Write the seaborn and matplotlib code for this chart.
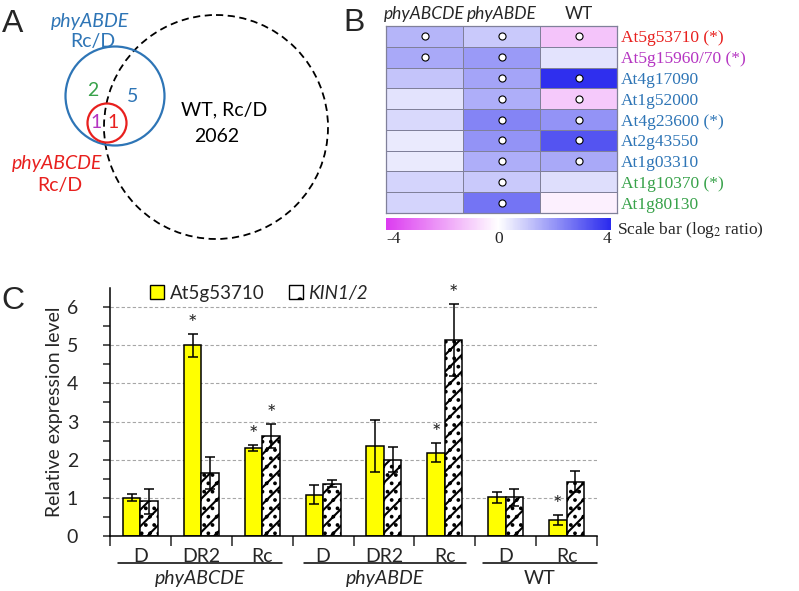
import numpy as np
import pandas as pd
import seaborn as sns
import matplotlib.pyplot as plt
import matplotlib.transforms as mtransforms
from matplotlib.colors import LinearSegmentedColormap, Normalize
from matplotlib.cm import ScalarMappable
from matplotlib.patches import Circle, Patch

sns.set_theme(style="white")
plt.rcParams['font.family'] = ['Lato', 'DejaVu Sans']
plt.rcParams['mathtext.fontset'] = 'stix'
plt.rcParams['hatch.linewidth'] = 1.5

# ---- panel A : venn counts
venn_only_abde = "2"
venn_abde_wt = "5"
venn_abcde_only = "1"
venn_abcde_wt = "1"
venn_wt = "2062"

# ---- panel B : log2 (Rc/D) ratios
heat_cols = ["phyABCDE", "phyABDE", "WT"]
heat_genes = ["At5g53710 (*)", "At5g15960/70 (*)", "At4g17090", "At1g52000",
              "At4g23600 (*)", "At2g43550", "At1g03310", "At1g10370 (*)", "At1g80130"]
gene_colors = ["#e8201e", "#b535c2", "#2e75b6", "#2e75b6", "#2e75b6",
               "#2e75b6", "#2e75b6", "#38a24a", "#38a24a"]
abcde_vals = [1.4, 1.6, 1.1, 0.5, 0.7, 0.4, 0.4, 0.8, 0.8]
abde_vals = [1.0, 1.9, 1.7, 1.5, 2.3, 2.0, 1.5, 1.0, 2.6]
wt_vals = [-1.2, 0.5, 3.9, -1.1, 2.0, 3.2, 1.6, 0.6, -0.3]
abcde_sig = [1, 1, 0, 0, 0, 0, 0, 0, 0]
abde_sig = [1, 1, 1, 1, 1, 1, 1, 1, 1]
wt_sig = [1, 0, 1, 1, 1, 1, 1, 0, 0]

# ---- panel C : qRT-PCR
conditions = ["D", "DR2", "Rc", "D", "DR2", "Rc", "D", "Rc"]
genotypes = ["phyABCDE"] * 3 + ["phyABDE"] * 3 + ["WT"] * 2
at5_mean = [1.0, 5.0, 2.3, 1.08, 2.35, 2.18, 1.01, 0.41]
at5_err = [0.1, 0.3, 0.07, 0.25, 0.68, 0.25, 0.14, 0.13]
kin_mean = [0.9, 1.65, 2.62, 1.37, 2.0, 5.14, 1.01, 1.42]
kin_err = [0.33, 0.43, 0.32, 0.1, 0.32, 0.94, 0.23, 0.28]
at5_star = [0, 1, 1, 0, 0, 1, 0, 1]
kin_star = [0, 0, 1, 0, 0, 1, 0, 0]

fig = plt.figure(figsize=(7.99, 5.91), dpi=100)

# overlay in pixel coords for venn + panel letters
ax0 = fig.add_axes([0, 0, 1, 1])
ax0.set_xlim(0, 799)
ax0.set_ylim(591, 0)
ax0.axis('off')
ax0.patch.set_alpha(0)

blue = "#2e75b6"
red = "#e8201e"
ax0.add_patch(Circle((216, 127), 112, fill=False, ec='black', lw=1.3, ls=(0, (4, 2.5))))
ax0.add_patch(Circle((115, 96), 49.5, fill=False, ec=blue, lw=1.6))
ax0.add_patch(Circle((107, 123), 19.5, fill=False, ec=red, lw=1.6))
fs_a = 14
ax0.text(90, 21, "phyABDE", color=blue, style='italic', fontsize=fs_a, ha='center', va='center')
ax0.text(93, 42, "Rc/D", color=blue, fontsize=fs_a, ha='center', va='center')
ax0.text(93, 91, venn_only_abde, color="#38a24a", fontsize=fs_a, ha='center', va='center')
ax0.text(133, 96, venn_abde_wt, color=blue, fontsize=fs_a, ha='center', va='center')
ax0.text(96, 123, venn_abcde_only, color="#b535c2", fontsize=fs_a, ha='center', va='center')
ax0.text(113, 123, venn_abcde_wt, color=red, fontsize=fs_a, ha='center', va='center')
ax0.text(224, 110, "WT, Rc/D", color='black', fontsize=fs_a, ha='center', va='center')
ax0.text(217, 137, venn_wt, color='black', fontsize=fs_a, ha='center', va='center')
ax0.text(57, 163, "phyABCDE", color=red, style='italic', fontsize=fs_a, ha='center', va='center')
ax0.text(60, 186, "Rc/D", color=red, fontsize=fs_a, ha='center', va='center')
for lab, x, y in [("A", 13, 24), ("B", 354, 23), ("C", 13, 301)]:
    ax0.text(x, y, lab, fontsize=23, family='Liberation Sans', ha='center', va='center')

# ---- heatmap
axB = fig.add_axes([386 / 799, 1 - 213 / 591, 231 / 799, 187 / 591])
heat_df = pd.DataFrame({"phyABCDE": abcde_vals, "phyABDE": abde_vals, "WT": wt_vals},
                       index=heat_genes)
cmap = LinearSegmentedColormap.from_list("mw", ["#dc3cf0", "#ffffff", "#2a2aee"])
sns.heatmap(heat_df, cmap=cmap, vmin=-4, vmax=4, cbar=False, linewidths=0.7,
            linecolor="#80809a", ax=axB)
for sp in axB.spines.values():
    sp.set_visible(True)
    sp.set_color("#80809a")
    sp.set_linewidth(0.9)
sig = np.array([abcde_sig, abde_sig, wt_sig]).T
rows, cols = np.nonzero(sig)
axB.scatter(cols + 0.5, rows + 0.5, s=26, c='white', edgecolors='black', linewidths=0.8, zorder=3)
axB.xaxis.tick_top()
axB.set_xticklabels(heat_cols, fontsize=12.5)
for t in axB.get_xticklabels()[:2]:
    t.set_style('italic')
axB.yaxis.tick_right()
axB.set_yticklabels(heat_genes, rotation=0, fontsize=12.5, family='Liberation Serif')
for t, c in zip(axB.get_yticklabels(), gene_colors):
    t.set_color(c)
axB.tick_params(length=0, pad=3)
axB.set_xlabel("")
axB.set_ylabel("")

cax = fig.add_axes([386 / 799, 1 - 230 / 591, 225 / 799, 12 / 591])
cb = fig.colorbar(ScalarMappable(norm=Normalize(-4, 4), cmap=cmap), cax=cax, orientation='horizontal')
cb.outline.set_visible(False)
cb.set_ticks([-4, 0, 4])
cb.set_ticklabels(["-4", "0", "4"])
cax.tick_params(length=0, pad=1, labelsize=12.5)
for t in cax.get_xticklabels():
    t.set_family('Liberation Serif')
cax.get_xticklabels()[0].set_ha('left')
cax.get_xticklabels()[2].set_ha('right')
fig.text(617 / 799, 1 - 230 / 591, "Scale bar (log$_2$ ratio)", family='Liberation Serif',
         fontsize=12.5, va='center', ha='left')

# ---- bar chart
axC = fig.add_axes([110 / 799, 1 - 535.7 / 591, 487 / 799, 247.4 / 591])
slot = [g + "|" + c for g, c in zip(genotypes, conditions)]
bar_df = pd.DataFrame({"slot": slot * 2,
                       "gene": ["At5g53710"] * 8 + ["KIN1/2"] * 8,
                       "level": at5_mean + kin_mean})
sns.barplot(data=bar_df, x="slot", y="level", hue="gene", palette=["#ffff00", "white"],
            width=0.575, edgecolor="black", linewidth=1.1, errorbar=None, legend=False,
            saturation=1, ax=axC)
bars = axC.patches
for p in bars[8:16]:
    p.set_hatch('//..')

xs_at5 = [p.get_x() + p.get_width() / 2 for p in bars[:8]]
xs_kin = [p.get_x() + p.get_width() / 2 for p in bars[8:16]]
axC.errorbar(xs_at5, at5_mean, yerr=at5_err, fmt='none', ecolor='black', elinewidth=1.1,
             capsize=3.5, capthick=1.1, zorder=4)
axC.errorbar(xs_kin, kin_mean, yerr=kin_err, fmt='none', ecolor='black', elinewidth=1.1,
             capsize=3.5, capthick=1.1, zorder=4)
for xs, m, e, st in [(xs_at5, at5_mean, at5_err, at5_star), (xs_kin, kin_mean, kin_err, kin_star)]:
    for x, mm, ee, s in zip(xs, m, e, st):
        if s:
            axC.text(x, mm + ee + 0.0, "*", ha='center', va='bottom', fontsize=16)

axC.set_xlim(-0.5, 7.5)
axC.set_ylim(0, 6.5)
axC.set_yticks(range(7))
axC.set_yticks(np.arange(0.5, 6.5, 1), minor=True)
axC.set_xticks(range(8))
axC.set_xticklabels(conditions, fontsize=14)
axC.set_xticks(np.arange(-0.5, 8, 1), minor=True)
axC.tick_params(axis='x', which='major', length=0, pad=9)
axC.tick_params(axis='x', which='minor', length=7, width=1.1, direction='out', bottom=True)
axC.tick_params(axis='y', which='both', length=5, width=1.1, direction='out', left=True, labelsize=14, pad=18)
axC.yaxis.grid(True, which='major', linestyle=(0, (3, 2)), color='#a6a6a6', lw=0.8)
axC.set_axisbelow(True)
sns.despine(ax=axC)
for sp in ['left', 'bottom']:
    axC.spines[sp].set_color('black')
    axC.spines[sp].set_linewidth(1.1)
axC.set_xlabel("")
axC.set_ylabel("Relative expression level", fontsize=14)
axC.yaxis.set_label_coords(-(110 - 63) / 487, 0.5)

trans = mtransforms.blended_transform_factory(axC.transData, axC.transAxes)
group_names = ["phyABCDE", "phyABDE", "WT"]
group_spans = [(-0.37, 2.32), (2.69, 5.35), (5.62, 7.5)]
for name, (a, b) in zip(group_names, group_spans):
    axC.plot([a, b], [-0.11, -0.11], color='black', lw=1.1, transform=trans, clip_on=False)
    axC.text((a + b) / 2, -0.172, name, transform=trans, ha='center', va='center',
             fontsize=14, style='italic' if name != "WT" else 'normal')

handles = [Patch(facecolor="#ffff00", edgecolor='black'),
           Patch(facecolor='white', edgecolor='black', hatch='.')]
leg = fig.legend(handles, ["At5g53710", "KIN1/2"], loc='center left',
                 bbox_to_anchor=(150 / 799, 1 - 293 / 591), ncol=2, frameon=False,
                 fontsize=13.5, handlelength=0.75, handleheight=0.75, handletextpad=0.3,
                 columnspacing=1.3, borderaxespad=0, borderpad=0)
leg.get_texts()[1].set_style('italic')

fig.savefig("out.png", dpi=100)
